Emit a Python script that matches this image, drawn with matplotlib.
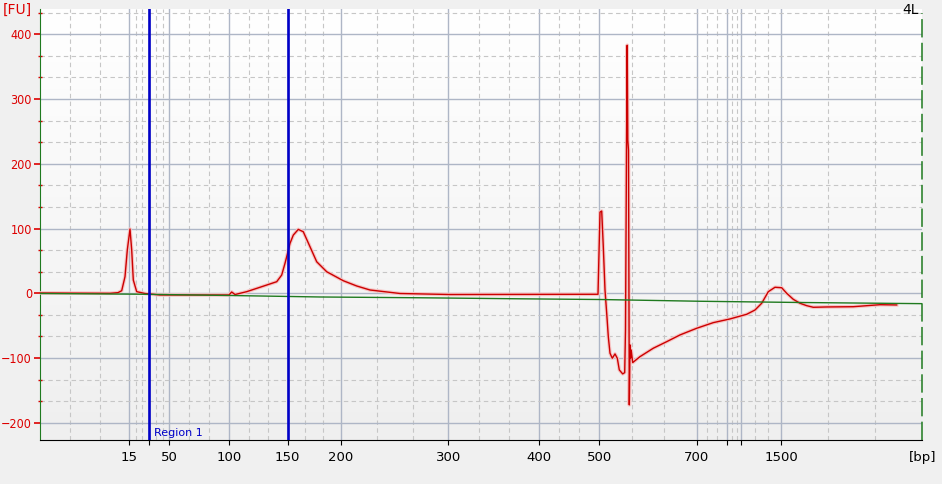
import numpy as np
import matplotlib.pyplot as plt
from matplotlib.colors import LinearSegmentedColormap

# ladder sizes (bp) and their migration times (s)
ladder_bp = [15, 25, 50, 100, 150, 200, 300, 400, 500, 700, 850, 1000, 1500]
ladder_time = [28.93, 30.90, 32.93, 38.93, 44.77, 50.10, 60.83, 69.93, 75.93,
               85.67, 88.73, 90.13, 94.13]
hidden_bp = [25, 850, 1000]

# sample trace
sample_time = [20.0, 27.0, 27.8, 28.17, 28.5, 28.73, 29.0, 29.17, 29.33, 29.67,
               30.5, 32.0, 38.9, 39.17, 39.5, 40.67, 42.0, 43.67, 44.17, 44.5,
               44.67, 45.0, 45.33, 45.83, 46.33, 47.0, 47.67, 48.67, 50.33, 51.67,
               53.0, 56.0, 61.0, 75.8, 76.0, 76.17, 76.33, 76.5, 76.67, 76.83,
               77.0, 77.23, 77.5, 77.73, 77.93, 78.27, 78.47, 78.55, 78.65, 78.72,
               78.78, 78.85, 78.93, 79.0, 79.07, 79.12, 79.27, 80.0, 81.33, 82.67,
               84.0, 85.67, 87.33, 89.0, 90.67, 91.5, 92.17, 92.83, 93.5, 94.17,
               94.67, 95.33, 96.0, 96.67, 97.33, 98.67, 101.33, 104.0, 105.67]
sample_fu = [0.5, 0, 1, 4, 25.6, 66.8, 99.2, 66.8, 20.5, 2.5,
             -0.3, -2.6, -2.6, 2, -1.9, 2.5, 9.3, 17.9, 28.2, 46.3,
             56.5, 77.1, 89.9, 98.7, 95.0, 71.9, 48.7, 33.3, 19.4, 11.3,
             5.1, -0.3, -1.9, -1.5, 125.4, 127, 71.9, 5.1, -30.8, -66.9,
             -92.5, -100.3, -93.6, -100.3, -118.3, -124.5, -122.5, -56.6, 221, 383,
             236.5, 221, -172.3, -79.7, -99.8, -87.5, -107, -97.8, -84.8, -74.7,
             -64.3, -54, -45.3, -39.6, -32.4, -25.8, -15.4, 2.5, 9.3, 8.6,
             0, -9.3, -15.4, -19.1, -21.6, -21.1, -20.7, -17.6, -18]

# baseline trace
baseline_time = [20.0, 30.0, 39.0, 48.0, 58.0, 68.0, 76.0, 86.0, 96.0, 108.2]
baseline_fu = [-0.3, -1.4, -3.4, -5.7, -6.9, -8.5, -9.6, -12.3, -14.2, -16.0]

region_bp = (25, 150)
region_name = "Region 1"

pos = dict(zip(ladder_bp, ladder_time))
x0, x1 = 20.0, 108.2
y0, y1 = -227, 439

fig = plt.figure(figsize=(9.42, 4.84), dpi=100, facecolor='#f0f0f0')
ax = fig.add_axes([40 / 942, 1 - 440.3 / 484, 882 / 942, 431.3 / 484])

# soft white-to-gray background
cmap = LinearSegmentedColormap.from_list('bg', ['#efefef', '#ffffff'])
ax.imshow(np.linspace(0, 1, 256).reshape(-1, 1), cmap=cmap, origin='lower',
          extent=(0, 1, 0, 1), transform=ax.transAxes, aspect='auto', zorder=0)

# ticks and grid
ax.set_xticks(ladder_time)
ax.set_xticklabels(['' if b in hidden_bp else str(b) for b in ladder_bp])
bounds = [x0] + ladder_time + [x1]
xminor = []
for a, b in zip(bounds[:-1], bounds[1:]):
    xminor += [a + (b - a) / 3, a + 2 * (b - a) / 3]
ax.set_xticks(xminor, minor=True)

ax.set_yticks(range(-200, 401, 100))
yminor = [m + k * 100 / 3 for m in range(-300, 500, 100) for k in (1, 2)]
ax.set_yticks([v for v in yminor if y0 < v < y1], minor=True)

ax.grid(which='major', color='#aeb6c6', lw=1.0, ls='-', zorder=1)
ax.grid(which='minor', color='#c6c6c6', lw=0.8, ls=(0, (4, 3)), zorder=1)
ax.set_axisbelow(True)

ax.tick_params(axis='x', which='major', length=3.6, width=0.8, color='black',
               labelsize=9.5, pad=4)
ax.tick_params(axis='x', which='minor', length=0)
ax.tick_params(axis='y', which='major', length=4.3, width=1.2, color='#dd0000',
               labelcolor='#dd0000', labelsize=9, pad=1.5)
ax.tick_params(axis='y', which='minor', length=2.5, width=1.0, color='#dd0000',
               direction='inout')
for lab in ax.get_yticklabels():
    lab.set_fontstretch('condensed')

ax.spines['top'].set_visible(False)
ax.spines['right'].set_visible(False)
ax.spines['left'].set_color('#1f7a1f')
ax.spines['bottom'].set_color('black')

# traces
ax.plot(sample_time, sample_fu, color='#f6c4c4', lw=2.6, zorder=3)
ax.plot(sample_time, sample_fu, color='#cc0000', lw=1.0, zorder=4)
ax.plot(baseline_time, baseline_fu, color='#1f7a1f', lw=1.0, zorder=5)

# region markers
for b in region_bp:
    ax.axvline(pos[b], color='#0000c8', lw=1.9, zorder=6)
ax.annotate(region_name, xy=(pos[region_bp[0]], -215), xytext=(3.6, 0),
            textcoords='offset points', color='#0000c8', fontsize=8,
            va='center', ha='left', zorder=7)

# right edge marker
ax.plot([x1, x1], [y0, 433], color='#1f7a1f', lw=1.1, dashes=(12, 3.5),
        clip_on=False, zorder=6)

ax.set_xlim(x0, x1)
ax.set_ylim(y0, y1)

fig.text(3 / 942, 1 - 10 / 484, '[FU]', color='#dd0000', fontsize=10,
         ha='left', va='center')
fig.text(919 / 942, 1 - 10 / 484, '4L', color='black', fontsize=10,
         ha='right', va='center')
fig.text(923 / 942, 1 - 457 / 484, '[bp]', color='black', fontsize=9.5,
         ha='center', va='center')

fig.savefig('out.png', dpi=100, facecolor=fig.get_facecolor())
